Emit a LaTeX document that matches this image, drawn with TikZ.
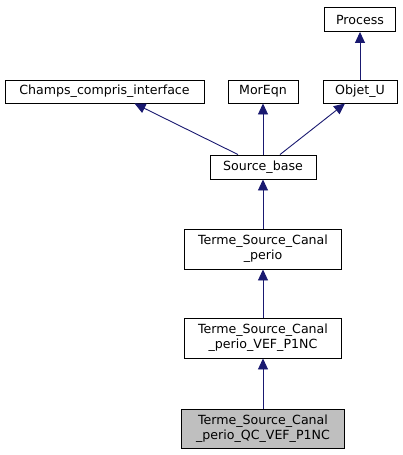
\documentclass[tikz,border=0pt]{standalone}
\usepackage{fontspec}
\setmainfont{DejaVu Sans}
\usetikzlibrary{arrows.meta}
\definecolor{edgeblue}{RGB}{25,25,112}
\definecolor{nodegray}{RGB}{191,191,191}
\begin{document}
\begin{tikzpicture}[x=1pt,y=-1pt,
  box/.style={draw=black, line width=0.9pt, fill=white, inner sep=0pt, align=center,
    font=\fontsize{12.6}{15}\selectfont, minimum height=24pt},
  twoline/.style={box, minimum height=40pt},
  edge/.style={draw=edgeblue, line width=0.9pt, -{Triangle[length=11pt,width=10pt]}}]
\useasboundingbox (0,0) rectangle (403,455);
\node[box, minimum width=71pt] (process) at (360,19.5) {Process};
\node[box, minimum width=74pt, minimum height=23pt] (objet) at (360,91.5) {Objet\_U};
\node[box, minimum width=70pt, minimum height=23pt] (moreqn) at (263,91.5) {MorEqn};
\node[box, minimum width=199pt, minimum height=23pt] (champs) at (104.5,91.5) {Champs\_compris\_interface};
\node[box, minimum width=106pt] (sb) at (263,167) {Source\_base};
\node[twoline, minimum width=157pt] (perio) at (263,249) {Terme\_Source\_Canal\\\_perio};
\node[twoline, minimum width=157pt] (vef) at (263,338) {Terme\_Source\_Canal\\\_perio\_VEF\_P1NC};
\node[twoline, minimum width=163pt, minimum height=39pt, fill=nodegray] (qc) at (263,428.5) {Terme\_Source\_Canal\\\_perio\_QC\_VEF\_P1NC};
\draw[edge] (objet.north) -- (process.south);
\draw[edge] ([xshift=-25pt]sb.north) -- ([xshift=30pt]champs.south);
\draw[edge] (sb.north) -- (moreqn.south);
\draw[edge] ([xshift=17pt]sb.north) -- ([xshift=-15pt]objet.south);
\draw[edge] (perio.north) -- (sb.south);
\draw[edge] (vef.north) -- (perio.south);
\draw[edge] (qc.north) -- (vef.south);
\end{tikzpicture}
\end{document}
